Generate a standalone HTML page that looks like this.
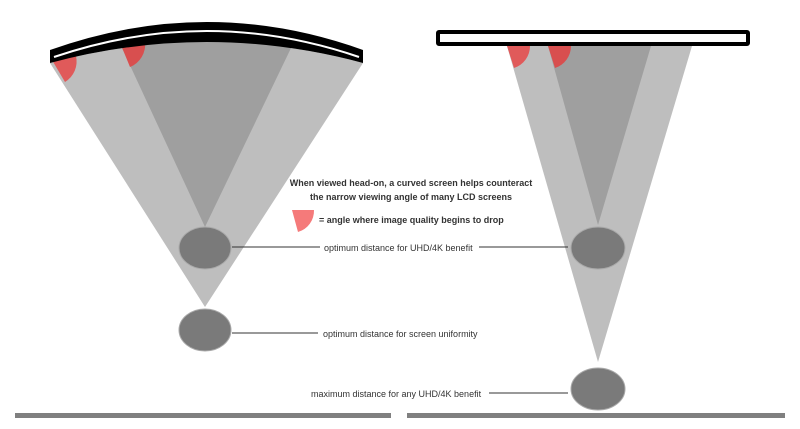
<!DOCTYPE html>
<html><head><meta charset="utf-8"><style>
html,body{margin:0;padding:0;background:#fff;width:800px;height:429px;overflow:hidden}
svg{display:block}
text{font-family:"Liberation Sans",sans-serif;fill:#333}
</style></head><body>
<svg width="800" height="429" viewBox="0 0 800 429">
<!-- left -->
<path d="M50,63 Q207,21 363,63 L205,307 Z" fill="#bebebe"/>
<path d="M121,46 Q207,33 292,46 L205,227 Z" fill="#9f9f9f"/>
<path d="M52,60 L76,56 A24,24 0 0 1 65,82 Z" fill="#e05a5a"/>
<path d="M121,45 L145,42 A24,24 0 0 1 130,67 Z" fill="#d84f4f"/>
<path d="M50,50 Q207,-6 363,50 L363,63 Q207,21 50,63 Z" fill="#000"/>
<path d="M54,57 Q207,5 359,57" stroke="#fff" stroke-width="2" fill="none"/>
<ellipse cx="205" cy="248" rx="26" ry="21" fill="#7a7a7a" stroke="#aaa" stroke-width="1"/>
<ellipse cx="205" cy="330" rx="26" ry="21" fill="#7a7a7a" stroke="#aaa" stroke-width="1"/>
<!-- right -->
<polygon points="507,46 692,46 598,362" fill="#bebebe"/>
<polygon points="548,46 651,46 598,225" fill="#9f9f9f"/>
<path d="M507,46 L530,46 A23,23 0 0 1 514,68 Z" fill="#e05a5a"/>
<path d="M548,46 L571,46 A23,23 0 0 1 555,68 Z" fill="#d84f4f"/>
<rect x="438" y="32" width="310" height="12" fill="#fff" stroke="#000" stroke-width="4" rx="1"/>
<ellipse cx="598" cy="248" rx="27" ry="21" fill="#7a7a7a" stroke="#aaa" stroke-width="1"/>
<ellipse cx="598" cy="389" rx="27" ry="21" fill="#7a7a7a" stroke="#aaa" stroke-width="1"/>
<!-- text -->
<text x="411" y="186" font-size="9" font-weight="bold" text-anchor="middle">When viewed head-on, a curved screen helps counteract</text>
<text x="411" y="200" font-size="9" font-weight="bold" text-anchor="middle">the narrow viewing angle of many LCD screens</text>
<path d="M292,210 L314,210 A22,22 0 0 1 298,232 Z" fill="#f57a7a"/>
<text x="319" y="223" font-size="9" font-weight="bold">= angle where image quality begins to drop</text>
<line x1="232" y1="247" x2="320" y2="247" stroke="#333" stroke-width="1"/>
<text x="324" y="251" font-size="9">optimum distance for UHD/4K benefit</text>
<line x1="479" y1="247" x2="568" y2="247" stroke="#333" stroke-width="1"/>
<line x1="232" y1="333" x2="318" y2="333" stroke="#333" stroke-width="1"/>
<text x="323" y="337" font-size="9">optimum distance for screen uniformity</text>
<text x="311" y="397" font-size="9">maximum distance for any UHD/4K benefit</text>
<line x1="489" y1="393" x2="568" y2="393" stroke="#333" stroke-width="1"/>
<rect x="15" y="413" width="376" height="5" fill="#808080"/>
<rect x="407" y="413" width="378" height="5" fill="#808080"/>
</svg>
</body></html>
